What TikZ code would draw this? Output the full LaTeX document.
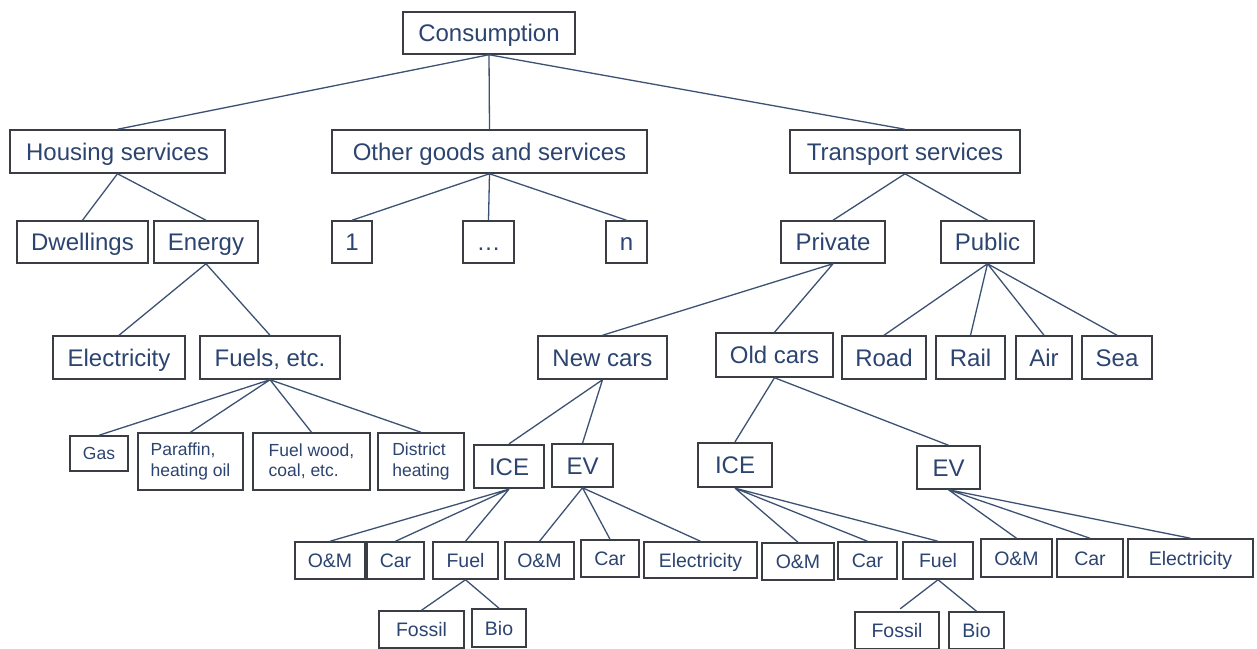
\documentclass[tikz,border=0pt]{standalone}
\usepackage{fontspec}
\setmainfont{Liberation Sans}
\usepackage{tikz}
\definecolor{txt}{HTML}{2C4470}
\definecolor{boxc}{HTML}{3A3D44}
\definecolor{linec}{HTML}{3D5273}

\begin{document}
\begin{tikzpicture}[x=1pt,y=-1pt]
      \tikzstyle frame=[draw=boxc, line width=1.5pt, text=txt, inner sep=0pt]
      \tikzstyle box=[frame, font=\fontsize{24}{27}\selectfont, text height=17.2pt, text depth=0pt]
      \tikzstyle small=[frame, font=\fontsize{17.5}{20.5}\selectfont, align=left]
      \tikzstyle mid=[frame, font=\fontsize{19.5}{22}\selectfont, text height=14pt, text depth=0pt]
      \tikzstyle heavy=[line width=2.3pt]
      \tikzstyle link=[draw=linec, line width=1.3pt]
      \useasboundingbox [fill=white] (0,0) rectangle (1257,648);
      % top levels
      \node [box, minimum width=172, minimum height=42] (cons) at (489,33) {Consumption};
      \node [box, minimum width=215, minimum height=43] (hous) at (117.5,151.5) {Housing services};
      \node [box, minimum width=315, minimum height=43] (other) at (489.5,151.5) {Other goods and services};
      \node [box, minimum width=230, minimum height=43] (trans) at (905,151.5) {Transport services};
      \node [box, minimum width=131, minimum height=42] (dwell) at (82.5,242) {Dwellings};
      \node [box, minimum width=104, minimum height=42] (energy) at (206,242) {Energy};
      \node [box, minimum width=40, minimum height=42] (one) at (352,242) {1};
      \node [box, minimum width=51, minimum height=42] (dots) at (488.5,242) {\dots};
      \node [box, minimum width=41, minimum height=42] (nn) at (626.5,242) {n};
      \node [box, minimum width=104, minimum height=42] (priv) at (833,242) {Private};
      \node [box, minimum width=93, minimum height=42] (pub) at (987.5,242) {Public};
      \node [box, minimum width=132, minimum height=43] (elec) at (119,357.5) {Electricity};
      \node [box, minimum width=140, minimum height=43] (fuels) at (270,357.5) {Fuels, etc.};
      \node [box, minimum width=129, minimum height=43] (newc) at (602.5,357.5) {New cars};
      \node [box, minimum width=117, minimum height=44] (oldc) at (774.5,355) {Old cars};
      \node [box, minimum width=84, minimum height=43] (road) at (884,357.5) {Road};
      \node [box, minimum width=69, minimum height=43] (rail) at (970.5,357.5) {Rail};
      \node [box, minimum width=56, minimum height=43] (air) at (1044,357.5) {Air};
      \node [box, minimum width=70, minimum height=43] (sea) at (1117,357.5) {Sea};
      % housing energy
      \node [small, minimum width=58, minimum height=35] (gas) at (99,453.5) {Gas};
      \node [small, minimum width=105, minimum height=57] (paraf) at (190.5,461.5) {Paraffin,\\heating oil};
      \node [small, minimum width=117, minimum height=57] (wood) at (311.5,461.5) {Fuel wood,\\coal, etc.};
      \node [small, minimum width=86, minimum height=57] (distr) at (421,461.5) {District\\heating};
      % cars
      \node [box, heavy, minimum width=70, minimum height=43] (iceN) at (509,466.5) {ICE};
      \node [box, minimum width=61, minimum height=43] (evN) at (582.5,465.5) {EV};
      \node [box, heavy, minimum width=74, minimum height=44] (iceO) at (735,465) {ICE};
      \node [box, minimum width=63, minimum height=43] (evO) at (948.5,467.5) {EV};
      \node [mid, minimum width=70, minimum height=37] (omN) at (330,560.5) {O\&M};
      \node [mid, minimum width=57, minimum height=37] (carN) at (395.5,560.5) {Car};
      \node [mid, minimum width=65, minimum height=37] (fuelN) at (465.5,560.5) {Fuel};
      \node [mid, minimum width=69, minimum height=37] (omNE) at (539.5,560.5) {O\&M};
      \node [mid, minimum width=58, minimum height=37] (carNE) at (610,558.5) {Car};
      \node [mid, minimum width=113, minimum height=36] (elNE) at (700.5,560) {Electricity};
      \node [mid, minimum width=72, minimum height=37] (omO) at (798,561.5) {O\&M};
      \node [mid, minimum width=59, minimum height=37] (carO) at (867.5,560.5) {Car};
      \node [mid, minimum width=70, minimum height=37] (fuelO) at (938,560.5) {Fuel};
      \node [mid, minimum width=71, minimum height=38] (omOE) at (1016.5,558) {O\&M};
      \node [mid, minimum width=66, minimum height=38] (carOE) at (1090,558) {Car};
      \node [mid, minimum width=125, minimum height=38] (elOE) at (1190.5,558) {Electricity};
      \node [mid, minimum width=85, minimum height=37] (fosN) at (421.5,629.5) {Fossil};
      \node [mid, minimum width=54, minimum height=38] (bioN) at (499,628) {Bio};
      \node [mid, minimum width=84, minimum height=37] (fosO) at (897,630.5) {Fossil};
      \node [mid, minimum width=55, minimum height=37] (bioO) at (976.5,630.5) {Bio};
      % connectors
      \draw [link] (cons.south) -- (hous.north) (cons.south) -- (other.north) (cons.south) -- (trans.north);
      \draw [link] (hous.south) -- (dwell.north) (hous.south) -- (energy.north);
      \draw [link] (other.south) -- (one.north) (other.south) -- (dots.north) (other.south) -- (nn.north);
      \draw [link] (trans.south) -- (priv.north) (trans.south) -- (pub.north);
      \draw [link] (energy.south) -- (elec.north) (energy.south) -- (fuels.north);
      \draw [link] (fuels.south) -- (gas.north) (fuels.south) -- (paraf.north)
        (fuels.south) -- (wood.north) (fuels.south) -- (distr.north);
      \draw [link] (priv.south) -- (newc.north) (priv.south) -- (oldc.north);
      \draw [link] (pub.south) -- (road.north) (pub.south) -- (rail.north)
        (pub.south) -- (air.north) (pub.south) -- (sea.north);
      \draw [link] (newc.south) -- (iceN.north) (newc.south) -- (evN.north);
      \draw [link] (oldc.south) -- (iceO.north) (oldc.south) -- (evO.north);
      \draw [link] (iceN.south) -- (omN.north) (iceN.south) -- (carN.north) (iceN.south) -- (fuelN.north);
      \draw [link] (evN.south) -- (omNE.north) (evN.south) -- (carNE.north) (evN.south) -- (elNE.north);
      \draw [link] (iceO.south) -- (omO.north) (iceO.south) -- (carO.north) (iceO.south) -- (fuelO.north);
      \draw [link] (evO.south) -- (omOE.north) (evO.south) -- (carOE.north) (evO.south) -- (elOE.north);
      \draw [link] (fuelN.south) -- (fosN.north) (fuelN.south) -- (bioN.north);
      \draw [link, shorten >=4pt] (fuelO.south) -- (fosO.north);
      \draw [link] (fuelO.south) -- (bioO.north);
    \end{tikzpicture}
\end{document}
